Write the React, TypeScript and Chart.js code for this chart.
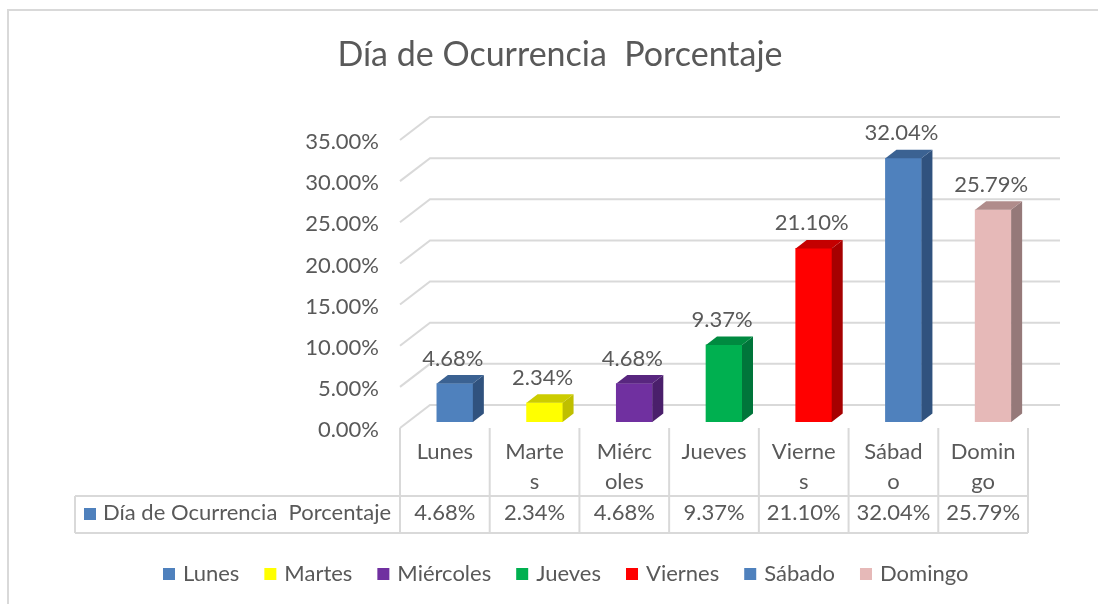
import React, { useEffect, useRef } from "react";
import { Chart, registerables } from "chart.js";

Chart.register(...registerables);

const title = "Día de Ocurrencia  Porcentaje";
const seriesName = "Día de Ocurrencia  Porcentaje";
const categories = ["Lunes", "Martes", "Miércoles", "Jueves", "Viernes", "Sábado", "Domingo"];
const tableLabels = [["Lunes"], ["Marte", "s"], ["Miérc", "oles"], ["Jueves"], ["Vierne", "s"], ["Sábad", "o"], ["Domin", "go"]];
const values = [0.0468, 0.0234, 0.0468, 0.0937, 0.211, 0.3204, 0.2579];
const yTicks = [0, 0.05, 0.1, 0.15, 0.2, 0.25, 0.3, 0.35];

const frontColors = ["#4F81BD", "#FFFF00", "#7030A0", "#00B050", "#FF0000", "#4F81BD", "#E6B9B8"];
const sideColors = ["#30527E", "#BFBF00", "#4A1F6B", "#00753A", "#A60000", "#30527E", "#957979"];
const topColors = ["#3B6292", "#CCCC00", "#58267F", "#008A40", "#C40000", "#3B6292", "#B08C8B"];

const FONT = "Lato, 'Open Sans', sans-serif";
const TEXT = "#595959";
const GRID = "#D9D9D9";
const pct = (v: number) => (v * 100).toFixed(2) + "%";

const excelPlugin = {
  id: "excel3d",
  beforeDraw(chart: any) {
    const ctx = chart.ctx as CanvasRenderingContext2D;
    ctx.save();
    ctx.fillStyle = "#ffffff";
    ctx.fillRect(0, 0, chart.width, chart.height);
    ctx.strokeStyle = GRID;
    ctx.lineWidth = 2;
    ctx.strokeRect(8, 10, chart.width + 20, chart.height + 20);
    ctx.fillStyle = TEXT;
    ctx.font = `34px ${FONT}`;
    ctx.textAlign = "center";
    ctx.textBaseline = "middle";
    ctx.fillText(title, 560, 55);
    ctx.restore();
  },
  beforeDatasetsDraw(chart: any) {
    const ctx = chart.ctx as CanvasRenderingContext2D;
    const ys = chart.scales.y;
    const ca = chart.chartArea;
    const n = categories.length;
    const colW = (ca.right - ca.left) / n;
    const left = ca.left - 10;
    const right = ca.right - 10;
    const backDY = -17;
    const frontDY = 6;
    ctx.save();
    ctx.strokeStyle = GRID;
    ctx.lineWidth = 2;
    ctx.fillStyle = TEXT;
    ctx.font = `22px ${FONT}`;
    ctx.textAlign = "right";
    ctx.textBaseline = "middle";
    for (const t of yTicks) {
      const py = ys.getPixelForValue(t);
      ctx.beginPath();
      ctx.moveTo(left, py + frontDY);
      ctx.lineTo(left + 30, py + backDY);
      ctx.lineTo(ca.right + 22, py + backDY);
      ctx.stroke();
      ctx.fillText(pct(t), 379, py + frontDY + 2);
    }
    // data table
    const base = ys.getPixelForValue(0);
    const rowTop = base + 74;
    const rowBot = base + 111;
    ctx.lineWidth = 2;
    ctx.beginPath();
    for (let k = 0; k <= n; k++) {
      const px = left + k * colW;
      ctx.moveTo(px, base + 6);
      ctx.lineTo(px, rowBot);
    }
    ctx.moveTo(75, rowTop);
    ctx.lineTo(right, rowTop);
    ctx.moveTo(75, rowBot);
    ctx.lineTo(right, rowBot);
    ctx.moveTo(75, rowTop);
    ctx.lineTo(75, rowBot);
    ctx.stroke();
    ctx.textAlign = "center";
    ctx.font = `22px ${FONT}`;
    tableLabels.forEach((lines, i) => {
      const cx = left + (i + 0.5) * colW;
      lines.forEach((l, j) => ctx.fillText(l, cx, base + 30 + j * 30));
      ctx.fillText(pct(values[i]), cx, base + 91);
    });
    ctx.fillStyle = frontColors[0];
    ctx.fillRect(84, base + 86, 12, 12);
    ctx.fillStyle = TEXT;
    ctx.textAlign = "left";
    ctx.fillText(seriesName, 103, base + 91);
    // legend
    let lx = 163;
    const ly = 574;
    categories.forEach((c, i) => {
      ctx.fillStyle = frontColors[i];
      ctx.fillRect(lx, ly - 6, 12, 12);
      ctx.fillStyle = TEXT;
      ctx.fillText(c, lx + 20, ly);
      lx += 20 + ctx.measureText(c).width + 25;
    });
    ctx.restore();
  },
  afterDatasetsDraw(chart: any) {
    const ctx = chart.ctx as CanvasRenderingContext2D;
    const meta = chart.getDatasetMeta(0);
    const dx = 11;
    const dy = 8.5;
    ctx.save();
    meta.data.forEach((el: any, i: number) => {
      const w = el.width;
      const x0 = el.x - w / 2;
      const x1 = el.x + w / 2;
      const yt = el.y;
      const yb = el.base;
      ctx.fillStyle = sideColors[i];
      ctx.beginPath();
      ctx.moveTo(x1, yt);
      ctx.lineTo(x1 + dx, yt - dy);
      ctx.lineTo(x1 + dx, yb - dy);
      ctx.lineTo(x1, yb);
      ctx.closePath();
      ctx.fill();
      ctx.fillStyle = topColors[i];
      ctx.beginPath();
      ctx.moveTo(x0, yt);
      ctx.lineTo(x1, yt);
      ctx.lineTo(x1 + dx, yt - dy);
      ctx.lineTo(x0 + dx, yt - dy);
      ctx.closePath();
      ctx.fill();
      ctx.fillStyle = TEXT;
      ctx.font = `22px ${FONT}`;
      ctx.textAlign = "center";
      ctx.textBaseline = "middle";
      ctx.fillText(pct(values[i]), el.x - 2, yt - 25);
    });
    ctx.restore();
  },
};

export default function App() {
  const ref = useRef<HTMLCanvasElement | null>(null);
  useEffect(() => {
    if (!ref.current) return;
    const chart = new Chart(ref.current, {
      type: "bar",
      data: {
        labels: categories,
        datasets: [
          {
            label: seriesName,
            data: values,
            backgroundColor: frontColors,
            borderWidth: 0,
            barThickness: 36,
          },
        ],
      },
      options: {
        animation: false,
        responsive: false,
        devicePixelRatio: 1,
        layout: { padding: { left: 410, right: 60, top: 134, bottom: 182 } },
        plugins: { legend: { display: false }, title: { display: false }, tooltip: { enabled: false } },
        scales: {
          x: { display: false, offset: true },
          y: { display: false, min: 0, max: 0.35, ticks: { stepSize: 0.05 } },
        },
      },
      plugins: [excelPlugin],
    });
    return () => chart.destroy();
  }, []);
  return (
    <div style={{ position: "absolute", left: 0, top: 0, width: 1098, height: 604, background: "#fff" }}>
      <canvas ref={ref} width={1098} height={604} style={{ display: "block" }} />
    </div>
  );
}
